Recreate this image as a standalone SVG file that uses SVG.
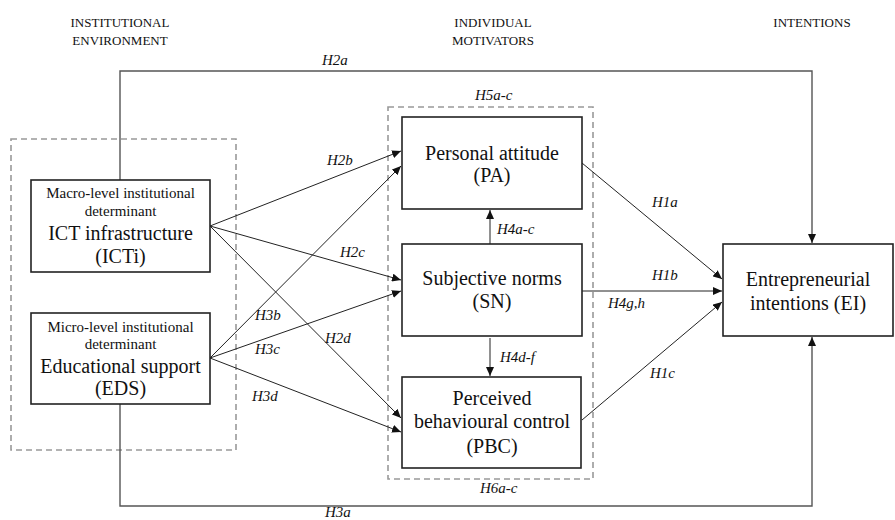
<svg xmlns="http://www.w3.org/2000/svg" width="895" height="520" viewBox="0 0 895 520" font-family="'Liberation Serif', 'DejaVu Serif', serif">
<defs>
<marker id="ah" markerWidth="10" markerHeight="8" refX="9" refY="4" orient="auto" markerUnits="userSpaceOnUse">
<path d="M0,0 L9,4 L0,8 Z" fill="#111"/>
</marker>
<style>
text{font-family:'Liberation Serif','DejaVu Serif',serif;fill:#111}
.hd{font-size:13px}
.sm{font-size:15px}
.lg{font-size:20px}
.lb{font-size:15px;font-style:italic}
.box{fill:#fff;stroke:#222;stroke-width:1.6}
.dash{fill:none;stroke:#999;stroke-width:1.6;stroke-dasharray:6 4}
.ln{fill:none;stroke:#222;stroke-width:1}
.gl{fill:none;stroke:#555;stroke-width:1.4}
</style>
</defs>
<rect width="895" height="520" fill="#fff"/>
<g id="headers">
<text class="hd" x="120" y="27" text-anchor="middle">INSTITUTIONAL</text>
<text class="hd" x="120" y="45" text-anchor="middle">ENVIRONMENT</text>
<text class="hd" x="493" y="27" text-anchor="middle">INDIVIDUAL</text>
<text class="hd" x="493" y="45" text-anchor="middle">MOTIVATORS</text>
<text class="hd" x="812" y="27" text-anchor="middle">INTENTIONS</text>
</g>
<g id="groups">
<rect class="dash" x="11" y="139" width="225" height="311"/>
<rect class="dash" x="388" y="107" width="205" height="372"/>
</g>
<g id="connectors">
<polyline class="gl" points="120,180 120,71 812,71 812,243" marker-end="url(#ah)"/>
<polyline class="gl" points="120,404 120,506 812,506 812,337" marker-end="url(#ah)"/>
<line class="ln" x1="210" y1="226" x2="401" y2="151" marker-end="url(#ah)"/>
<line class="ln" x1="210" y1="226" x2="401" y2="280" marker-end="url(#ah)"/>
<line class="ln" x1="210" y1="226" x2="401" y2="418" marker-end="url(#ah)"/>
<line class="ln" x1="210" y1="358" x2="401" y2="166" marker-end="url(#ah)"/>
<line class="ln" x1="210" y1="358" x2="401" y2="291" marker-end="url(#ah)"/>
<line class="ln" x1="210" y1="358" x2="401" y2="432" marker-end="url(#ah)"/>
<line class="ln" x1="582" y1="163" x2="722" y2="279" marker-end="url(#ah)"/>
<line class="ln" x1="582" y1="291" x2="722" y2="291" marker-end="url(#ah)"/>
<line class="ln" x1="582" y1="420" x2="722" y2="302" marker-end="url(#ah)"/>
<line class="ln" x1="490" y1="244" x2="490" y2="210" marker-end="url(#ah)"/>
<line class="ln" x1="490" y1="338" x2="490" y2="376" marker-end="url(#ah)"/>
</g>
<g id="labels">
<text class="lb" x="322" y="65">H2a</text>
<text class="lb" x="327" y="165">H2b</text>
<text class="lb" x="340" y="257">H2c</text>
<text class="lb" x="325" y="343">H2d</text>
<text class="lb" x="255" y="320">H3b</text>
<text class="lb" x="255" y="354">H3c</text>
<text class="lb" x="252" y="401">H3d</text>
<text class="lb" x="325" y="517">H3a</text>
<text class="lb" x="652" y="207">H1a</text>
<text class="lb" x="652" y="280">H1b</text>
<text class="lb" x="608" y="308">H4g,h</text>
<text class="lb" x="650" y="378">H1c</text>
<text class="lb" x="497" y="234">H4a-c</text>
<text class="lb" x="500" y="362">H4d-f</text>
<text class="lb" x="475" y="100">H5a-c</text>
<text class="lb" x="480" y="493">H6a-c</text>
</g>
<g id="ICTi">
<rect class="box" x="31" y="180" width="179" height="92"/>
<text class="sm" x="120.5" y="198" text-anchor="middle">Macro-level institutional</text>
<text class="sm" x="120.5" y="216" text-anchor="middle">determinant</text>
<text class="lg" x="120.5" y="240" text-anchor="middle">ICT infrastructure</text>
<text class="lg" x="120.5" y="263" text-anchor="middle">(ICTi)</text>
</g>
<g id="EDS">
<rect class="box" x="31" y="313" width="179" height="91"/>
<text class="sm" x="120.5" y="332" text-anchor="middle">Micro-level institutional</text>
<text class="sm" x="120.5" y="349" text-anchor="middle">determinant</text>
<text class="lg" x="120.5" y="373" text-anchor="middle">Educational support</text>
<text class="lg" x="120.5" y="395" text-anchor="middle">(EDS)</text>
</g>
<g id="PA">
<rect class="box" x="402" y="117" width="180" height="92"/>
<text class="lg" x="492" y="160" text-anchor="middle">Personal attitude</text>
<text class="lg" x="492" y="182" text-anchor="middle">(PA)</text>
</g>
<g id="SN">
<rect class="box" x="402" y="244" width="180" height="92"/>
<text class="lg" x="492" y="285" text-anchor="middle">Subjective norms</text>
<text class="lg" x="492" y="308" text-anchor="middle">(SN)</text>
</g>
<g id="PBC">
<rect class="box" x="402" y="377" width="179" height="91"/>
<text class="lg" x="492" y="405" text-anchor="middle">Perceived</text>
<text class="lg" x="492" y="428" text-anchor="middle">behavioural control</text>
<text class="lg" x="492" y="453" text-anchor="middle">(PBC)</text>
</g>
<g id="EI">
<rect class="box" x="723" y="244" width="170" height="92"/>
<text class="lg" x="808" y="286" text-anchor="middle">Entrepreneurial</text>
<text class="lg" x="808" y="310" text-anchor="middle">intentions (EI)</text>
</g>
</svg>
